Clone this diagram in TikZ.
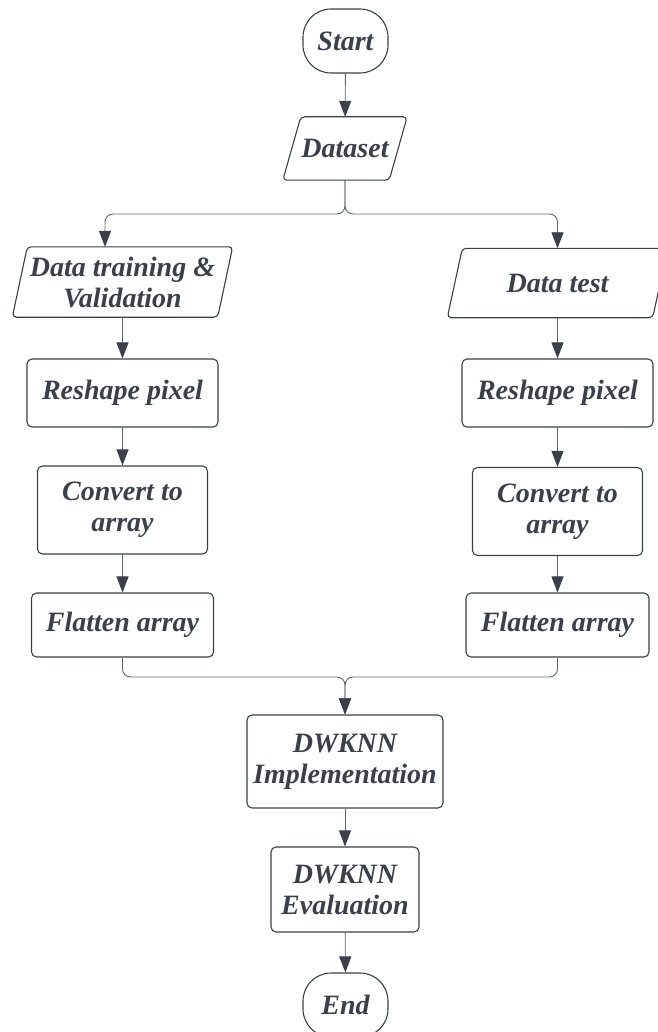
\documentclass[tikz,border=0pt]{standalone}
\usepackage{fontspec}
\setmainfont{Liberation Serif}
\usetikzlibrary{arrows.meta}
\definecolor{inkgray}{HTML}{3A3F4A}
\definecolor{wiregray}{HTML}{60656C}
% slanted data frame round a plain node: #1 node, #2 half the slant
\newcommand{\ioframe}[2]{%
  \draw[ioline] ([xshift=#2]#1.north west) -- ([xshift=#2]#1.north east)
    -- ([xshift=-#2]#1.south east) -- ([xshift=-#2]#1.south west) -- cycle;}

\begin{document}
\begin{tikzpicture}[x=1pt,y=-1pt,
  >={Triangle[length=16pt,width=12pt,color=inkgray]},
  every node/.style={align=center,text=inkgray,font=\fontsize{28}{31}\selectfont\bfseries\itshape},
  terminal/.style={draw=inkgray,line width=1.1pt,rectangle,rounded corners=28pt,
    minimum width=85pt,minimum height=64pt,inner sep=1pt},
  iobox/.style={rectangle,inner sep=2pt},
  ioline/.style={draw=inkgray,line width=1.1pt,rounded corners=4pt},
  process/.style={draw=inkgray,line width=1.1pt,rectangle,rounded corners=5pt,inner sep=2pt},
  flow/.style={->,draw=wiregray,line width=0.9pt,rounded corners=8pt}]
  \useasboundingbox (0,0) rectangle (657,1032);

  \node[terminal] (start) at (345.5,41) {Start};
  \node[iobox,minimum width=106pt,minimum height=63pt] (dataset) at (345,148.5) {Dataset};
  \node[iobox,minimum width=205pt,minimum height=70pt] (train) at (122.5,282) {Data training \&\\Validation};
  \node[iobox,minimum width=205pt,minimum height=69pt] (test) at (557.5,283) {Data test};
  \ioframe{dataset}{9pt}
  \ioframe{train}{7.5pt}
  \ioframe{test}{7.5pt}

  \node[process,minimum width=191pt,minimum height=68pt] (reshapeL) at (122.5,393) {Reshape pixel};
  \node[process,minimum width=191pt,minimum height=68pt] (reshapeR) at (557.5,393) {Reshape pixel};
  \node[process,minimum width=170pt,minimum height=88pt] (convertL) at (122.5,510) {Convert to\\array};
  \node[process,minimum width=170pt,minimum height=88pt] (convertR) at (557.5,511.5) {Convert to\\array};
  \node[process,minimum width=182pt,minimum height=64pt] (flattenL) at (122.5,625) {Flatten array};
  \node[process,minimum width=183pt,minimum height=64pt] (flattenR) at (557.5,625) {Flatten array};

  \node[process,minimum width=196pt,minimum height=93pt] (impl) at (345,761.5) {DWKNN\\Implementation};
  \node[process,minimum width=148pt,minimum height=85pt] (eval) at (345,889.5) {DWKNN\\Evaluation};
  \node[terminal] (end) at (345.5,1005) {End};

  % split after the dataset, join before the classifier
  \coordinate (forkL) at (105,214);
  \coordinate (forkR) at (557.5,214);
  \coordinate (merge) at (345,677);

  \draw[flow] (start) -- (dataset);
  \draw[flow] (dataset.south) |- (forkL) -- (forkL |- train.north);
  \draw[flow] (dataset.south) |- (forkR) -- (test.north);
  \draw[flow] (train.south) -- (reshapeL.north);
  \draw[flow] (reshapeL) -- (convertL);
  \draw[flow] (convertL) -- (flattenL);
  \draw[flow] (test.south) -- (reshapeR.north);
  \draw[flow] (reshapeR) -- (convertR);
  \draw[flow] (convertR) -- (flattenR);
  \draw[flow] (flattenL.south) |- (merge) -- (impl.north);
  \draw[flow] (flattenR.south) |- (merge) -- (impl.north);
  \draw[flow] (impl) -- (eval);
  \draw[flow] (eval) -- (end);
\end{tikzpicture}
\end{document}
